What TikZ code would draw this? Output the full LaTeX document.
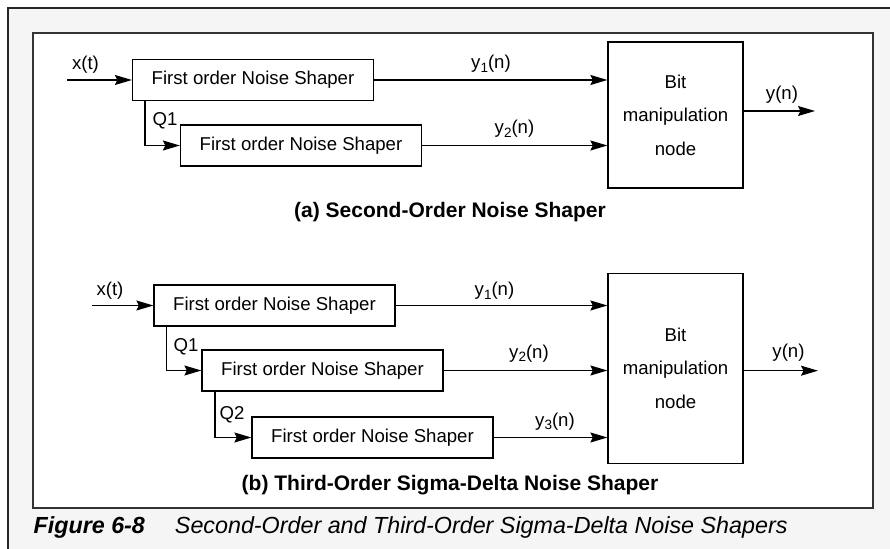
\documentclass[tikz,border=0pt]{standalone}
\usepackage{fontspec}
\setmainfont{Liberation Sans}
\usetikzlibrary{arrows.meta}
\newcommand{\lowidx}[1]{\raisebox{-3.5pt}{\fontsize{13.5}{14}\selectfont #1}}

\begin{document}
\begin{tikzpicture}[x=1pt,y=-1pt,line width=1.25pt,
    font=\fontsize{18.6}{33.5}\selectfont]
        \tikzstyle{shaper} = [draw,fill=white,minimum width=241pt,minimum height=41pt,inner sep=0pt]
        \tikzstyle{bitbox} = [draw,fill=white,minimum width=135pt,inner sep=0pt,align=center]
        \tikzstyle{sig} = [-{Stealth[length=17pt,width=10pt,inset=2.5pt]}]
        \tikzstyle{lbl} = [inner sep=0pt]
        \tikzstyle{part} = [inner sep=0pt,font=\fontsize{21}{25}\selectfont\bfseries]
        \useasboundingbox (0,0) rectangle (890,548);
        \clip (0,0) rectangle (890,548);
        \draw[line width=2.6pt,draw=black!85,fill=black!4] (8,8) rectangle (910,570);
        \draw[line width=1.2pt,draw=black!80,fill=white] (33,33) rectangle (873,508);
        % (a) second order
        \node[shaper] (a1) at (253,80) {First order Noise Shaper};
        \node[shaper] (a2) at (301,145.5) {First order Noise Shaper};
        \node[bitbox,minimum height=146pt] (abit) at (675.5,115) {Bit\\manipulation\\node};
        \coordinate (ain) at (67,80);
        \coordinate (aout) at (815,111);
        \draw[sig] (ain) -- (a1.west);
        \draw[sig] ([xshift=-108pt]a1.south) |- (a2.west);
        \draw[sig] (a1.east) -- (a1.east -| abit.west);
        \draw[sig] (a2.east) -- (a2.east -| abit.west);
        \draw[sig] (abit.east |- aout) -- (aout);
        \node[lbl] (ax) at (85.5,65) {x(t)};
        \node[lbl] (aq1) at (165,121) {Q1};
        \node[lbl] (ay1) at (491,64) {y\lowidx{1}(n)};
        \node[lbl] (ay2) at (514.5,129) {y\lowidx{2}(n)};
        \node[lbl] (ay) at (782,95) {y(n)};
        \node[part] (acap) at (450,212.5) {(a) Second-Order Noise Shaper};
        % (b) third order
        \foreach \i/\x/\y in {1/274.5/305.5, 2/322.5/370.5, 3/372.5/437.5}{
          \node[shaper] (b\i) at (\x,\y) {First order Noise Shaper};
        }
        \node[bitbox,minimum height=190pt] (bbit) at (675.5,368.3) {Bit\\manipulation\\node};
        \coordinate (bin) at (92,305.5);
        \coordinate (bout) at (818,370.7);
        \draw[sig] (bin) -- (b1.west);
        \draw[sig] ([xshift=-108pt]b1.south) |- (b2.west);
        \draw[sig] ([xshift=-107.5pt]b2.south) |- (b3.west);
        \foreach \i in {1,2,3}{
          \draw[sig] (b\i.east) -- (b\i.east -| bbit.west);
        }
        \draw[sig] (bbit.east |- bout) -- (bout);
        \node[lbl] (bx) at (110,291) {x(t)};
        \node[lbl] (bq1) at (186,347) {Q1};
        \node[lbl] (bq2) at (232,415) {Q2};
        \node[lbl] (by1) at (494.5,291) {y\lowidx{1}(n)};
        \node[lbl] (by2) at (529,353.5) {y\lowidx{2}(n)};
        \node[lbl] (by3) at (555,421.5) {y\lowidx{3}(n)};
        \node[lbl] (by) at (788.5,352.5) {y(n)};
        \node[part] (bcap) at (450,485) {(b) Third-Order Sigma-Delta Noise Shaper};
        % figure caption
        \node[lbl,anchor=base west,font=\fontsize{23.3}{28}\selectfont] (fig) at (33,533)
          {{\bfseries\itshape Figure 6-8}\hspace{30pt}{\itshape Second-Order and Third-Order Sigma-Delta Noise Shapers}};
      \end{tikzpicture}
\end{document}
